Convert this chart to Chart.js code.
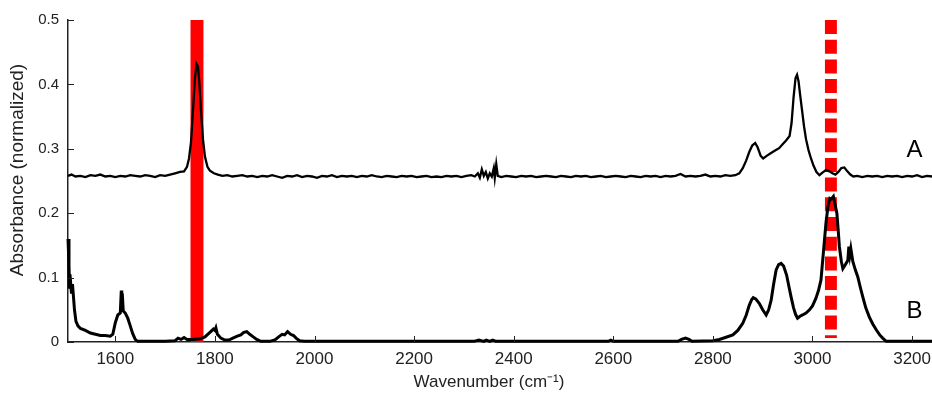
<!DOCTYPE html>
<html>
<head>
<meta charset="utf-8">
<script src="https://cdn.jsdelivr.net/npm/chart.js@4.4.1/dist/chart.umd.min.js"></script>
<style>
  html, body { margin: 0; padding: 0; background: #fff; }
  #wrap { width: 932px; height: 398px; }
</style>
</head>
<body>
<div id="wrap"><canvas id="spectra" width="932" height="398"></canvas></div>
<script>
// spectrum A (upper trace)
const wavenumbersA = [1505,1512,1520,1530,1540,1550,1560,1570,1580,1590,1600,1610,1620,1630,1640,1650,1660,1670,1680,1690,1700,1710,1720,1730,1738,1744,1748,1752,1756,1760,1763,1766,1769,1772,1776,1780,1785,1790,1798,1806,1815,1825,1835,1845,1855,1865,1875,1885,1895,1905,1915,1925,1935,1945,1955,1965,1975,1985,1995,2005,2015,2025,2035,2045,2055,2065,2075,2085,2095,2105,2115,2125,2135,2145,2155,2165,2175,2185,2195,2205,2215,2225,2235,2245,2255,2265,2275,2285,2295,2305,2315,2322,2328,2332,2336,2340,2344,2348,2352,2356,2360,2362,2365,2368,2375,2385,2395,2405,2415,2425,2435,2445,2455,2465,2475,2485,2495,2505,2515,2525,2535,2545,2555,2565,2575,2585,2595,2605,2615,2625,2635,2645,2655,2665,2675,2685,2695,2705,2715,2725,2735,2745,2755,2765,2775,2785,2795,2805,2815,2825,2835,2845,2853,2860,2867,2873,2879,2885,2890,2896,2901,2908,2916,2924,2933,2940,2947,2954,2958,2962,2966,2969,2972,2975,2979,2983,2987,2992,2997,3002,3008,3014,3020,3027,3034,3040,3046,3052,3058,3064,3070,3076,3082,3090,3100,3110,3120,3130,3140,3150,3160,3170,3180,3190,3200,3210,3220,3230,3240];
const absorbanceA = [0.258,0.260,0.257,0.258,0.256,0.259,0.258,0.260,0.257,0.258,0.256,0.258,0.257,0.259,0.258,0.257,0.259,0.258,0.256,0.259,0.258,0.260,0.262,0.264,0.265,0.272,0.285,0.310,0.360,0.410,0.432,0.428,0.400,0.360,0.315,0.288,0.272,0.266,0.262,0.260,0.258,0.259,0.257,0.258,0.259,0.257,0.258,0.256,0.258,0.257,0.259,0.257,0.255,0.258,0.257,0.259,0.256,0.258,0.257,0.255,0.258,0.257,0.259,0.256,0.258,0.257,0.258,0.256,0.258,0.257,0.259,0.257,0.256,0.258,0.257,0.256,0.258,0.257,0.258,0.256,0.257,0.258,0.256,0.257,0.256,0.258,0.257,0.258,0.256,0.258,0.259,0.257,0.262,0.255,0.268,0.258,0.264,0.254,0.262,0.257,0.270,0.255,0.276,0.258,0.256,0.258,0.257,0.256,0.258,0.257,0.258,0.256,0.257,0.258,0.257,0.256,0.258,0.257,0.256,0.258,0.257,0.258,0.256,0.257,0.258,0.256,0.257,0.258,0.257,0.256,0.258,0.257,0.256,0.258,0.257,0.258,0.256,0.258,0.257,0.258,0.261,0.257,0.258,0.257,0.258,0.260,0.257,0.258,0.257,0.259,0.258,0.259,0.262,0.270,0.282,0.295,0.305,0.309,0.302,0.289,0.285,0.289,0.293,0.297,0.301,0.307,0.313,0.320,0.340,0.380,0.410,0.415,0.405,0.385,0.360,0.335,0.315,0.298,0.285,0.274,0.264,0.259,0.263,0.267,0.265,0.262,0.260,0.264,0.270,0.271,0.265,0.260,0.257,0.258,0.256,0.258,0.257,0.258,0.256,0.258,0.257,0.258,0.256,0.258,0.257,0.259,0.256,0.258,0.257];

// spectrum B (lower trace)
const wavenumbersB = [1505,1507,1508,1509,1510,1512,1514,1516,1518,1521,1525,1530,1540,1550,1560,1570,1580,1590,1595,1600,1605,1610,1612,1613,1614,1616,1620,1625,1630,1635,1640,1645,1660,1700,1720,1726,1732,1738,1744,1755,1770,1780,1790,1797,1800,1802,1805,1812,1820,1828,1836,1845,1852,1858,1864,1870,1877,1884,1892,1910,1920,1928,1935,1940,1946,1952,1958,1963,1970,1980,2100,2320,2330,2340,2345,2352,2358,2364,2590,2595,2600,2730,2737,2745,2752,2758,2800,2813,2825,2840,2850,2860,2867,2873,2878,2881,2886,2893,2900,2907,2912,2917,2922,2927,2932,2937,2942,2948,2953,2957,2962,2966,2970,2975,2980,2987,2994,3000,3007,3012,3017,3022,3027,3031,3035,3038,3042,3045,3049,3052,3054,3058,3061,3066,3071,3073,3075,3077,3081,3086,3091,3096,3101,3107,3114,3121,3128,3135,3141,3148,3160,3240];
const absorbanceB = [0.160,0.120,0.085,0.105,0.095,0.075,0.090,0.070,0.050,0.032,0.025,0.021,0.018,0.014,0.012,0.010,0.010,0.009,0.012,0.030,0.042,0.045,0.080,0.050,0.075,0.048,0.045,0.037,0.025,0.013,0.004,0.001,0.001,0.001,0.002,0.006,0.004,0.007,0.004,0.004,0.005,0.008,0.015,0.020,0.018,0.022,0.012,0.006,0.003,0.003,0.006,0.009,0.011,0.015,0.016,0.012,0.008,0.004,0.001,0.001,0.003,0.008,0.012,0.011,0.016,0.012,0.010,0.006,0.002,0.001,0.001,0.001,0.003,0.001,0.003,0.001,0.003,0.001,0.001,0.003,0.001,0.001,0.004,0.006,0.004,0.001,0.002,0.004,0.007,0.011,0.018,0.029,0.042,0.057,0.066,0.069,0.067,0.060,0.050,0.042,0.050,0.065,0.090,0.112,0.120,0.122,0.118,0.104,0.085,0.070,0.053,0.043,0.037,0.040,0.042,0.045,0.050,0.056,0.068,0.080,0.096,0.140,0.184,0.210,0.223,0.222,0.226,0.215,0.200,0.170,0.148,0.125,0.114,0.120,0.127,0.148,0.135,0.145,0.125,0.112,0.101,0.085,0.070,0.053,0.039,0.028,0.019,0.011,0.006,0.001,0.001,0.001];

// highlighted bands (wavenumber ranges)
const solidBand = [1751, 1777];
const dashedBand = [3025, 3049];

const xTicks = [1600, 1800, 2000, 2200, 2400, 2600, 2800, 3000, 3200];
const yTicks = [0, 0.1, 0.2, 0.3, 0.4, 0.5];
const traceLabels = ['A', 'B'];
const traceLabelPos = [[3205, 0.297], [3205, 0.048]];
const xTitle = 'Wavenumber (cm\u207B\u00B9)';
const yTitle = 'Absorbance (normalized)';

const toPoints = (xs, ys) => xs.map((x, i) => ({ x: x, y: ys[i] }));

// red bands behind the traces, tick marks pointing inward, labels and titles
const overlay = {
  id: 'overlay',
  beforeDatasetsDraw(chart) {
    const { ctx, chartArea, scales } = chart;
    const x = scales.x;
    ctx.save();
    ctx.fillStyle = '#ff0000';
    const l = x.getPixelForValue(solidBand[0]);
    const r = x.getPixelForValue(solidBand[1]);
    ctx.fillRect(l, chartArea.top, r - l, chartArea.bottom - chartArea.top);

    const dl = x.getPixelForValue(dashedBand[0]);
    const dr = x.getPixelForValue(dashedBand[1]);
    ctx.strokeStyle = '#ff0000';
    ctx.lineWidth = dr - dl;
    ctx.setLineDash([14, 5.7]);
    ctx.beginPath();
    ctx.moveTo((dl + dr) / 2, chartArea.top);
    ctx.lineTo((dl + dr) / 2, chartArea.bottom - 4);
    ctx.stroke();
    ctx.restore();
  },
  afterDraw(chart) {
    const { ctx, chartArea, scales } = chart;
    ctx.save();
    ctx.strokeStyle = '#222';
    ctx.lineWidth = 1;
    xTicks.forEach(v => {
      const px = Math.round(scales.x.getPixelForValue(v)) + 0.5;
      ctx.beginPath();
      ctx.moveTo(px, chartArea.bottom);
      ctx.lineTo(px, chartArea.bottom - 6);
      ctx.stroke();
    });
    yTicks.forEach(v => {
      const py = Math.round(scales.y.getPixelForValue(v)) + 0.5;
      ctx.beginPath();
      ctx.moveTo(chartArea.left, py);
      ctx.lineTo(chartArea.left + 6, py);
      ctx.stroke();
    });
    ctx.fillStyle = '#000';
    ctx.font = '24px "Liberation Sans", Arial, sans-serif';
    ctx.textAlign = 'center';
    ctx.textBaseline = 'middle';
    traceLabels.forEach((t, i) => {
      ctx.fillText(t, scales.x.getPixelForValue(traceLabelPos[i][0]), scales.y.getPixelForValue(traceLabelPos[i][1]));
    });

    ctx.fillStyle = '#222';
    ctx.font = '17px "Liberation Sans", Arial, sans-serif';
    ctx.fillText(xTitle, 489, 382);
    ctx.translate(18, 170);
    ctx.rotate(-Math.PI / 2);
    ctx.font = '19px "Liberation Sans", Arial, sans-serif';
    ctx.fillText(yTitle, 0, 0);
    ctx.restore();
  }
};

new Chart(document.getElementById('spectra'), {
  type: 'scatter',
  data: {
    datasets: [
      {
        label: 'A',
        data: toPoints(wavenumbersA, absorbanceA),
        showLine: true,
        borderColor: '#000',
        borderWidth: 2.3,
        pointRadius: 0,
        tension: 0,
        clip: 4
      },
      {
        label: 'B',
        data: toPoints(wavenumbersB, absorbanceB),
        showLine: true,
        borderColor: '#000',
        borderWidth: 3,
        pointRadius: 0,
        tension: 0,
        clip: 4
      }
    ]
  },
  options: {
    responsive: false,
    animation: false,
    layout: { padding: { top: 20, right: 0, left: 0, bottom: 0 } },
    plugins: { legend: { display: false }, tooltip: { enabled: false } },
    scales: {
      x: {
        type: 'linear',
        min: 1505,
        max: 3240,
        afterFit: s => { s.height = 56; s.paddingRight = 0; s.paddingLeft = 0; },
        afterBuildTicks: s => { s.ticks = xTicks.map(v => ({ value: v })); },
        grid: { display: false, drawTicks: false },
        border: { display: true, color: '#222', width: 1.5 },
        ticks: {
          color: '#222',
          padding: 7,
          font: { family: '"Liberation Sans", Arial', size: 17 },
          callback: v => String(v)
        }
      },
      y: {
        min: 0,
        max: 0.5,
        afterFit: s => { s.width = 68; },
        afterBuildTicks: s => { s.ticks = yTicks.map(v => ({ value: v })); },
        grid: { display: false, drawTicks: false },
        border: { display: true, color: '#222', width: 1.5 },
        ticks: {
          color: '#222',
          padding: 9,
          font: { family: '"Liberation Sans", Arial', size: 15 },
          callback: v => String(v)
        }
      }
    }
  },
  plugins: [overlay]
});
</script>
</body>
</html>
